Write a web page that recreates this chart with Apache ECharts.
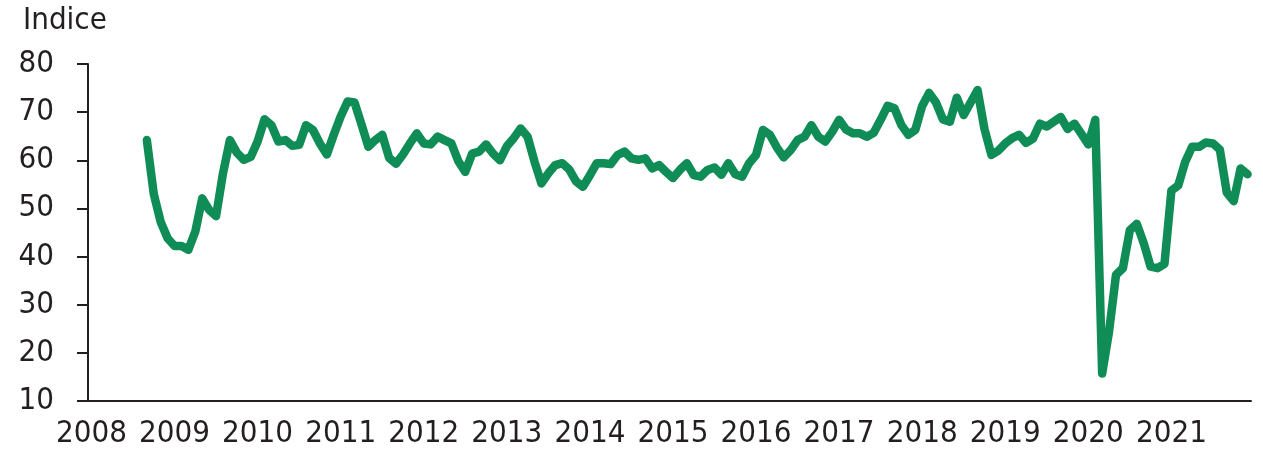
<!DOCTYPE html>
<html>
<head>
<meta charset="utf-8">
<script src="https://cdn.jsdelivr.net/npm/echarts@6/dist/echarts.min.js"></script>
<style>
html,body{margin:0;padding:0;background:#fff;}
#chart{width:1263px;height:452px;}
</style>
</head>
<body>
<div id="chart"></div>
<script>
// Monthly categories Jan 2008 .. Dec 2021
var years = [2008,2009,2010,2011,2012,2013,2014,2015,2016,2017,2018,2019,2020,2021];
var yAxisTicks = [10,20,30,40,50,60,70,80];
var yTitle = 'Indice';

// Index values by year (2008 starts in September)
var v2008 = [64.2, 53.0, 47.2, 43.8];
var v2009 = [42.2, 42.2, 41.4, 45.2, 52.1, 49.7, 48.4, 57.3, 64.2, 61.6, 60.1, 60.7];
var v2010 = [63.9, 68.5, 67.3, 63.9, 64.2, 63.0, 63.2, 67.3, 66.3, 63.5, 61.2, 65.3];
var v2011 = [69.1, 72.2, 72.0, 67.5, 62.8, 64.2, 65.3, 60.5, 59.3, 61.2, 63.5, 65.6];
var v2012 = [63.5, 63.3, 64.9, 64.2, 63.5, 59.8, 57.6, 61.4, 61.8, 63.3, 61.4, 60.0];
var v2013 = [62.9, 64.6, 66.6, 64.9, 59.7, 55.2, 57.3, 59.0, 59.4, 58.1, 55.6, 54.5];
var v2014 = [56.9, 59.4, 59.4, 59.2, 61.1, 61.8, 60.4, 60.1, 60.4, 58.3, 59.0, 57.6];
var v2015 = [56.3, 58.0, 59.4, 56.9, 56.6, 58.0, 58.5, 57.0, 59.4, 57.1, 56.6, 59.4];
var v2016 = [61.1, 66.3, 65.3, 62.7, 60.6, 62.1, 64.2, 64.9, 67.3, 64.9, 63.9, 65.9];
var v2017 = [68.4, 66.4, 65.6, 65.6, 64.9, 65.7, 68.4, 71.3, 70.8, 67.3, 65.3, 66.3];
var v2018 = [71.3, 74.0, 72.0, 68.5, 68.0, 73.0, 69.4, 72.0, 74.6, 66.5, 61.1, 62.0];
var v2019 = [63.5, 64.6, 65.3, 63.6, 64.5, 67.6, 67.0, 68.0, 69.0, 66.5, 67.6, 65.5];
var v2020 = [63.3, 68.4, 15.7, 24.5, 36.2, 37.6, 45.5, 46.8, 42.8, 37.9, 37.6, 38.5];
var v2021 = [53.7, 54.8, 59.7, 62.8, 62.8, 63.7, 63.5, 62.2, 53.3, 51.5, 58.3, 57.1];

var categories = [];
years.forEach(function (y) {
  for (var m = 1; m <= 12; m++) categories.push(y + '-' + (m < 10 ? '0' + m : m));
});
var values = [null, null, null, null, null, null, null, null]
  .concat(v2008, v2009, v2010, v2011, v2012, v2013, v2014, v2015,
          v2016, v2017, v2018, v2019, v2020, v2021);

var FONT = '"DejaVu Sans Condensed", "Liberation Sans Narrow", sans-serif';
var FS = 31;
var TXT = '#231f20';

var chart = echarts.init(document.getElementById('chart'), null, {renderer: 'canvas'});
chart.setOption({
  animation: false,
  backgroundColor: '#ffffff',
  graphic: [{
    type: 'text',
    left: 23,
    top: 5,
    style: {text: yTitle, font: FS + 'px ' + FONT, fill: TXT}
  }],
  grid: {left: 88, right: 12, top: 64, bottom: 51, containLabel: false},
  xAxis: {
    type: 'category',
    data: categories,
    boundaryGap: true,
    axisLine: {show: true, lineStyle: {color: TXT, width: 2}},
    axisTick: {show: false},
    axisLabel: {
      interval: 11,
      margin: 17,
      color: TXT,
      fontSize: FS,
      fontFamily: FONT,
      formatter: function (v) { return v.slice(0, 4); }
    },
    splitLine: {show: false}
  },
  yAxis: {
    type: 'value',
    min: yAxisTicks[0],
    max: yAxisTicks[yAxisTicks.length - 1],
    interval: 10,
    axisLine: {show: true, lineStyle: {color: TXT, width: 2}},
    axisTick: {show: true, inside: false, length: 11, lineStyle: {color: TXT, width: 2}},
    axisLabel: {margin: 34, color: TXT, fontSize: FS, fontFamily: FONT},
    splitLine: {show: false}
  },
  series: [{
    type: 'line',
    data: values,
    showSymbol: false,
    connectNulls: false,
    lineStyle: {color: '#108c56', width: 8.5, cap: 'round', join: 'round'},
    itemStyle: {color: '#108c56'}
  }]
});
</script>
</body>
</html>
